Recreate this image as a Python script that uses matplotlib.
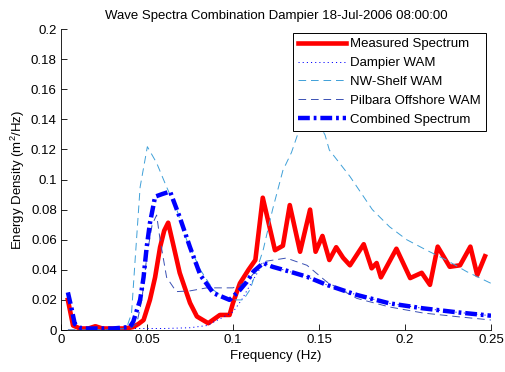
import matplotlib
matplotlib.use("Agg")
import matplotlib.pyplot as plt
from matplotlib.ticker import FuncFormatter

plt.rcParams['font.family'] = ['Liberation Sans', 'DejaVu Sans']
plt.rcParams['font.size'] = 9.5
plt.rcParams['mathtext.default'] = 'regular'
plt.rcParams['lines.scale_dashes'] = False

f_meas = [0.004, 0.007, 0.011, 0.016, 0.020, 0.024, 0.028, 0.032, 0.036, 0.040, 0.042, 0.045,
          0.048, 0.0517, 0.0547, 0.0576, 0.060, 0.0623, 0.065, 0.069, 0.075, 0.079, 0.0856,
          0.0924, 0.098, 0.100, 0.104, 0.109, 0.113, 0.1173, 0.1244, 0.129, 0.133, 0.139,
          0.1448, 0.148, 0.152, 0.156, 0.160, 0.164, 0.168, 0.176, 0.1806, 0.1835, 0.186,
          0.195, 0.203, 0.2097, 0.2145, 0.219, 0.226, 0.232, 0.238, 0.242, 0.2465]
v_meas = [0.020, 0.003, 0.001, 0.001, 0.0025, 0.001, 0.001, 0.001, 0.001, 0.0015, 0.002, 0.004,
          0.0066, 0.020, 0.035, 0.055, 0.066, 0.0713, 0.058, 0.038, 0.018, 0.009, 0.0045,
          0.010, 0.010, 0.018, 0.031, 0.040, 0.0465, 0.0879, 0.053, 0.056, 0.083, 0.052,
          0.080, 0.052, 0.0625, 0.0465, 0.055, 0.048, 0.043, 0.057, 0.041, 0.0445, 0.035,
          0.054, 0.0345, 0.038, 0.030, 0.0554, 0.042, 0.043, 0.0554, 0.0365, 0.049]

f_dam = [0.043, 0.06, 0.075, 0.085, 0.09, 0.095, 0.1, 0.105, 0.11, 0.1176, 0.123, 0.133,
         0.143, 0.1545, 0.172, 0.191, 0.2105, 0.230, 0.250]
v_dam = [0.001, 0.001, 0.0015, 0.003, 0.006, 0.009, 0.012, 0.02, 0.03, 0.0445, 0.042, 0.0388,
         0.0354, 0.030, 0.0233, 0.0177, 0.0144, 0.0118, 0.0095]

f_nw = [0.004, 0.02, 0.038, 0.041, 0.043, 0.046, 0.0502, 0.0556, 0.0614, 0.0673, 0.073, 0.081,
        0.0886, 0.0963, 0.102, 0.106, 0.110, 0.1175, 0.123, 0.129, 0.134, 0.137, 0.141, 0.145,
        0.149, 0.1535, 0.156, 0.168, 0.181, 0.191, 0.201, 0.2126, 0.224, 0.236, 0.250]
v_nw = [0.0, 0.0, 0.001, 0.011, 0.045, 0.095, 0.1218, 0.111, 0.095, 0.080, 0.060, 0.040,
        0.0266, 0.020, 0.020, 0.020, 0.027, 0.053, 0.080, 0.106, 0.118, 0.128, 0.142, 0.146,
        0.139, 0.1296, 0.1196, 0.102, 0.080, 0.0686, 0.060, 0.053, 0.0465, 0.0387, 0.031]

f_pil = [0.004, 0.02, 0.04, 0.044, 0.047, 0.050, 0.053, 0.0556, 0.0576, 0.0614, 0.067, 0.075,
         0.0847, 0.100, 0.108, 0.1175, 0.131, 0.143, 0.1545, 0.172, 0.191, 0.2105, 0.23, 0.2504]
v_pil = [0.0, 0.0, 0.001, 0.004, 0.02, 0.05, 0.07, 0.0764, 0.060, 0.035, 0.0255, 0.026,
         0.028, 0.028, 0.032, 0.0454, 0.0478, 0.043, 0.032, 0.021, 0.0153, 0.0113, 0.0089, 0.0066]

f_comb = [0.004, 0.006, 0.008, 0.012, 0.02, 0.03, 0.04, 0.042, 0.046, 0.048, 0.0498, 0.0517,
          0.0547, 0.059, 0.0634, 0.069, 0.075, 0.081, 0.0886, 0.098, 0.104, 0.108, 0.112,
          0.1176, 0.123, 0.133, 0.143, 0.1545, 0.172, 0.191, 0.2105, 0.230, 0.250]
v_comb = [0.025, 0.015, 0.004, 0.001, 0.001, 0.001, 0.002, 0.0055, 0.020, 0.035, 0.055, 0.071,
          0.0886, 0.0904, 0.092, 0.075, 0.055, 0.0365, 0.0245, 0.020, 0.0266, 0.032, 0.039,
          0.0445, 0.042, 0.0388, 0.0354, 0.030, 0.0233, 0.0177, 0.0144, 0.0118, 0.0095]

labels = ['Measured Spectrum', 'Dampier WAM', 'NW-Shelf WAM', 'Pilbara Offshore WAM',
          'Combined Spectrum']
x_ticks = [0, 0.05, 0.1, 0.15, 0.2, 0.25]
y_ticks = [0, 0.02, 0.04, 0.06, 0.08, 0.1, 0.12, 0.14, 0.16, 0.18, 0.2]

fig = plt.figure(figsize=(5.05, 3.72), dpi=100)
ax = fig.add_axes([0.1208, 0.1129, 0.8515, 0.8091])

ax.plot(f_meas, v_meas, color='#ff0000', lw=3.3, solid_joinstyle='round', label=labels[0])
ax.plot(f_dam, v_dam, color='#0000ff', lw=0.7, linestyle=(0, (0.8, 2.2)), label=labels[1])
ax.plot(f_nw, v_nw, color='#3fa0d8', lw=0.7, linestyle=(0, (5.5, 3.5)), label=labels[2])
ax.plot(f_pil, v_pil, color='#3a50b4', lw=0.7, linestyle=(0, (5.5, 3.5)), label=labels[3])
ax.plot(f_comb, v_comb, color='#0000ff', lw=3.2, linestyle=(0, (8.5, 2.8, 2.0, 2.8)),
        dash_capstyle='butt', label=labels[4])

ax.set_xlim(0, 0.25)
ax.set_ylim(0, 0.2)
ax.set_xticks(x_ticks)
ax.set_yticks(y_ticks)
fmt = FuncFormatter(lambda v, p: '%g' % round(v, 4))
ax.xaxis.set_major_formatter(fmt)
ax.yaxis.set_major_formatter(fmt)
ax.tick_params(direction='in', length=4, width=0.6, pad=3)
for s in ['top', 'right']:
    ax.spines[s].set_visible(False)
for s in ['left', 'bottom']:
    ax.spines[s].set_linewidth(0.6)

ax.set_title('Wave Spectra Combination Dampier 18-Jul-2006 08:00:00', fontsize=9.5, pad=7)
ax.set_xlabel('Frequency (Hz)', labelpad=3)
ax.set_ylabel('Energy Density (m$^2$/Hz)', labelpad=3)

leg = ax.legend(loc='upper right', bbox_to_anchor=(0.988, 0.987), borderaxespad=0,
                fancybox=False, framealpha=1, edgecolor='black', handlelength=3.6,
                handletextpad=0.3, labelspacing=0.5, borderpad=0.4, fontsize=9.5)
leg.get_frame().set_linewidth(0.7)

fig.savefig('out.png', dpi=100)
